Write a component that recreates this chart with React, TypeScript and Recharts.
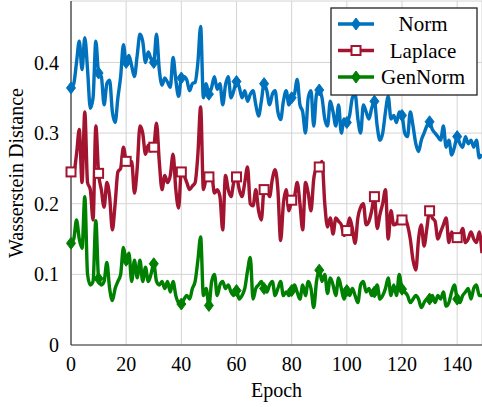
import React from "react";
import { LineChart, Line, XAxis, YAxis, CartesianGrid, Label } from "recharts";

const seriesNames = ["Norm", "Laplace", "GenNorm"];
const seriesColors = ["#0072BD", "#A2142F", "#008000"];

const xTicks = [0, 20, 40, 60, 80, 100, 120, 140];
const yTicks = [0, 0.1, 0.2, 0.3, 0.4];

const normValues = [
  0.364, 0.37, 0.40, 0.43, 0.39, 0.435, 0.39, 0.335, 0.35, 0.43,
  0.385, 0.38, 0.34, 0.37, 0.375, 0.33, 0.315, 0.35, 0.38, 0.425,
  0.40, 0.41, 0.395, 0.38, 0.41, 0.44, 0.43, 0.40, 0.415, 0.405,
  0.40, 0.44, 0.39, 0.368, 0.378, 0.372, 0.365, 0.407, 0.375, 0.352,
  0.378, 0.38, 0.375, 0.36, 0.37, 0.372, 0.40, 0.451, 0.35, 0.37,
  0.355, 0.365, 0.38, 0.362, 0.37, 0.34, 0.368, 0.38, 0.35, 0.36,
  0.373, 0.365, 0.35, 0.36, 0.345, 0.355, 0.36, 0.34, 0.324, 0.345,
  0.37, 0.36, 0.34, 0.355, 0.36, 0.33, 0.319, 0.345, 0.36, 0.34,
  0.35, 0.355, 0.376, 0.34, 0.33, 0.30, 0.35, 0.36, 0.31, 0.355,
  0.361, 0.35, 0.32, 0.31, 0.345, 0.33, 0.31, 0.34, 0.30, 0.32,
  0.315, 0.325, 0.35, 0.355, 0.32, 0.30, 0.34, 0.33, 0.32, 0.335,
  0.345, 0.31, 0.29, 0.30, 0.33, 0.352, 0.32, 0.325, 0.315, 0.33,
  0.325, 0.30, 0.295, 0.33, 0.31, 0.285, 0.274, 0.29, 0.30, 0.31,
  0.316, 0.305, 0.30, 0.295, 0.29, 0.31, 0.28, 0.29, 0.269, 0.28,
  0.295, 0.285, 0.28, 0.295, 0.285, 0.29, 0.28, 0.29, 0.265, 0.27,
];

const laplaceValues = [
  0.245, 0.245, 0.27, 0.305, 0.23, 0.33, 0.23, 0.22, 0.177, 0.31,
  0.243, 0.22, 0.195, 0.23, 0.21, 0.163, 0.20, 0.245, 0.25, 0.28,
  0.26, 0.255, 0.26, 0.215, 0.25, 0.31, 0.30, 0.27, 0.283, 0.275,
  0.28, 0.314, 0.26, 0.22, 0.24, 0.23, 0.24, 0.27, 0.22, 0.194,
  0.245, 0.24, 0.23, 0.22, 0.225, 0.23, 0.27, 0.337, 0.22, 0.235,
  0.238, 0.24, 0.215, 0.22, 0.21, 0.163, 0.24, 0.22, 0.21, 0.23,
  0.238, 0.22, 0.21, 0.23, 0.252, 0.20, 0.197, 0.22, 0.19, 0.177,
  0.22, 0.22, 0.21, 0.235, 0.248, 0.22, 0.148, 0.20, 0.22, 0.19,
  0.205, 0.21, 0.23, 0.20, 0.163, 0.23, 0.215, 0.19, 0.235, 0.25,
  0.252, 0.26, 0.20, 0.167, 0.18, 0.157, 0.18, 0.175, 0.17, 0.155,
  0.162, 0.18, 0.165, 0.144, 0.18, 0.195, 0.20, 0.17, 0.175, 0.19,
  0.21, 0.165, 0.185, 0.20, 0.22, 0.15, 0.19, 0.17, 0.172, 0.18,
  0.177, 0.18, 0.17, 0.15, 0.12, 0.106, 0.15, 0.17, 0.14, 0.165,
  0.19, 0.18, 0.175, 0.15, 0.16, 0.17, 0.18, 0.145, 0.16, 0.15,
  0.152, 0.155, 0.165, 0.145, 0.15, 0.16, 0.15, 0.145, 0.16, 0.13,
];

const genNormValues = [
  0.144, 0.15, 0.177, 0.15, 0.137, 0.21, 0.10, 0.085, 0.09, 0.176,
  0.094, 0.085, 0.09, 0.117, 0.08, 0.063, 0.08, 0.09, 0.10, 0.138,
  0.12, 0.13, 0.09, 0.12, 0.095, 0.12, 0.09, 0.11, 0.09, 0.10,
  0.115, 0.09, 0.085, 0.09, 0.08, 0.09, 0.075, 0.09, 0.07, 0.06,
  0.058, 0.065, 0.07, 0.065, 0.08, 0.09, 0.12, 0.153, 0.07, 0.08,
  0.056, 0.09, 0.10, 0.07, 0.085, 0.09, 0.08, 0.085, 0.075, 0.07,
  0.077, 0.065, 0.07, 0.08, 0.105, 0.124, 0.065, 0.08, 0.085, 0.09,
  0.08, 0.075, 0.085, 0.09, 0.07, 0.08, 0.09, 0.07, 0.075, 0.07,
  0.077, 0.085, 0.075, 0.065, 0.085, 0.07, 0.09, 0.08, 0.053, 0.09,
  0.106, 0.09, 0.10, 0.073, 0.095, 0.085, 0.07, 0.095, 0.08, 0.065,
  0.077, 0.07, 0.08, 0.07, 0.06, 0.085, 0.09, 0.075, 0.08, 0.07,
  0.075, 0.085, 0.065, 0.07, 0.08, 0.095, 0.07, 0.085, 0.07, 0.10,
  0.079, 0.075, 0.07, 0.06, 0.065, 0.07, 0.065, 0.053, 0.06, 0.065,
  0.065, 0.07, 0.06, 0.07, 0.065, 0.075, 0.055, 0.06, 0.075, 0.085,
  0.065, 0.06, 0.07, 0.075, 0.08, 0.065, 0.08, 0.085, 0.07, 0.07,
];

const seriesKeys = ["norm", "laplace", "gennorm"];
const markerKinds = ["diamond", "square", "diamond"];

const data = normValues.map((_, i) => ({
  epoch: i,
  norm: normValues[i],
  laplace: laplaceValues[i],
  gennorm: genNormValues[i],
}));

const FONT = "Liberation Serif";

function Marker({ kind, color, cx, cy }: { kind: string; color: string; cx: number; cy: number }) {
  if (kind === "square") {
    return <rect x={cx - 4.5} y={cy - 4.5} width={9} height={9} fill="#fff" stroke={color} strokeWidth={2} />;
  }
  return (
    <polygon
      points={`${cx},${cy - 6} ${cx + 4.5},${cy} ${cx},${cy + 6} ${cx - 4.5},${cy}`}
      fill={color}
      stroke={color}
      strokeWidth={1}
    />
  );
}

function makeDot(kind: string, color: string) {
  return (props: any) => {
    const { cx, cy, index } = props;
    if (index % 10 !== 0 || cx == null || cy == null) return <g key={`d-${index}`} />;
    return (
      <g key={`d-${index}`}>
        <Marker kind={kind} color={color} cx={cx} cy={cy} />
      </g>
    );
  };
}

function LegendBox() {
  return (
    <svg width={148} height={90} style={{ position: "absolute", left: 330, top: 7 }}>
      <rect x={1} y={1} width={146} height={87} fill="#fff" stroke="#222" strokeWidth={1.3} />
      {seriesNames.map((name, i) => {
        const cy = 17 + i * 26.5;
        return (
          <g key={name}>
            <line x1={8} y1={cy} x2={44} y2={cy} stroke={seriesColors[i]} strokeWidth={3.4} />
            <Marker kind={markerKinds[i]} color={seriesColors[i]} cx={26} cy={cy} />
            <text
              x={93}
              y={cy}
              textAnchor="middle"
              dominantBaseline="central"
              style={{ fontFamily: FONT, fontSize: 21, fill: "#000" }}
            >
              {name}
            </text>
          </g>
        );
      })}
    </svg>
  );
}

export default function App() {
  return (
    <div style={{ position: "absolute", left: 0, top: 0, width: 482, height: 407, overflow: "hidden", background: "#fff" }}>
      <LineChart width={482} height={407} data={data} margin={{ top: 1, right: 0, left: 1, bottom: 0 }}>
        <CartesianGrid stroke="#d4d4d4" strokeWidth={1} vertical horizontal />
        <XAxis
          xAxisId="top"
          orientation="top"
          dataKey="epoch"
          type="number"
          domain={[0, 149]}
          height={0}
          tick={false}
          tickLine={false}
          axisLine={{ stroke: "#333", strokeWidth: 1.2 }}
        />
        <XAxis
          dataKey="epoch"
          type="number"
          domain={[0, 149]}
          ticks={xTicks}
          height={62}
          tickLine={false}
          axisLine={{ stroke: "#333", strokeWidth: 1.2 }}
          tick={{ fontFamily: FONT, fontSize: 20, fill: "#000" }}
          tickMargin={6}
        >
          <Label value="Epoch" position="center" dy={14} style={{ fontFamily: FONT, fontSize: 20, fill: "#000" }} />
        </XAxis>
        <YAxis
          type="number"
          domain={[0, 0.487]}
          ticks={yTicks}
          width={70}
          tickLine={false}
          axisLine={{ stroke: "#333", strokeWidth: 1.2 }}
          tick={{ fontFamily: FONT, fontSize: 20, fill: "#000" }}
          tickFormatter={(v: number) => (v === 0 ? "0" : String(v))}
          tickMargin={6}
        >
          <Label
            value="Wasserstein Distance"
            angle={-90}
            position="center"
            dx={-20}
            style={{ fontFamily: FONT, fontSize: 20, fill: "#000", textAnchor: "middle" }}
          />
        </YAxis>
        {seriesKeys.map((k, i) => (
          <Line
            key={k}
            dataKey={k}
            name={seriesNames[i]}
            stroke={seriesColors[i]}
            strokeWidth={3.4}
            type="monotone"
            isAnimationActive={false}
            dot={makeDot(markerKinds[i], seriesColors[i])}
            activeDot={false}
          />
        ))}
      </LineChart>
      <LegendBox />
    </div>
  );
}
